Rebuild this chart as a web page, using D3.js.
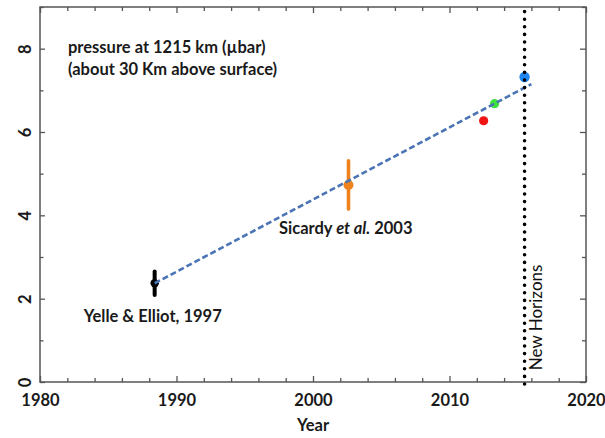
<!DOCTYPE html>
<html>
<head>
<meta charset="utf-8">
<script src="https://cdn.jsdelivr.net/npm/d3@7"></script>
<style>
  html, body { margin: 0; padding: 0; background: #fff; }
  svg { display: block; }
  text { font-family: Lato, "Open Sans", sans-serif; }
</style>
</head>
<body>
<svg id="chart" width="605" height="438"></svg>
<script>
// ---- data ----
const sourceLabels = ["Yelle & Elliot, 1997", "Sicardy et al. 2003", "", "", ""];
const obsYears     = [1988.4, 2002.6, 2012.5, 2013.3, 2015.5];
const obsPressure  = [2.37, 4.73, 6.27, 6.68, 7.32];
const obsError     = [0.28, 0.58, 0, 0, 0];
const obsColors    = ["#000000", "#f0821e", "#f01414", "#3ee23e", "#1f86f0"];
const fitYears     = [1988.4, 2016.0];
const fitPressure  = [2.37, 7.15];
const newHorizonsYear = 2015.5;
const xTickValues  = d3.range(1980, 2021, 2);
const xTickLabels  = [1980, 1990, 2000, 2010, 2020];
const yTickValues  = d3.range(0, 10, 1);
const yTickLabels  = [0, 2, 4, 6, 8];
const titleLines   = ["pressure at 1215 km (\u00b5bar)", "(about 30 Km above surface)"];
const xTitle       = "Year";

// ---- layout ----
const svg = d3.select("#chart");
const pL = 40, pR = 586, pT = 7, pB = 382;
const x = d3.scaleLinear().domain([1980, 2020]).range([pL, pR]);
const y = d3.scaleLinear().domain([0, 9]).range([pB, pT]);
const axisColor = "#555";
const textColor = "#1a1a1a";

// frame
svg.append("rect").attr("x", pL).attr("y", pT)
  .attr("width", pR - pL).attr("height", pB - pT)
  .attr("fill", "none").attr("stroke", axisColor).attr("stroke-width", 1.5);

function styleAxis(g) {
  g.select(".domain").remove();
  g.selectAll(".tick line").attr("stroke", axisColor).attr("stroke-width", 1.3);
}
const isMajorX = v => xTickLabels.includes(v);
const isMajorY = v => yTickLabels.includes(v);

// bottom axis
const gx = svg.append("g").attr("transform", `translate(0,${pB})`)
  .call(d3.axisBottom(x).tickValues(xTickValues).tickSize(-5).tickSizeOuter(0)
    .tickFormat(v => isMajorX(v) ? String(v) : ""));
styleAxis(gx);
gx.selectAll(".tick line").attr("y2", d => isMajorX(d) ? -6 : -4);
gx.selectAll(".tick text").attr("y", 12).attr("dy", "0.71em")
  .attr("font-size", 16.5).attr("font-weight", 700).attr("fill", textColor)
  .attr("font-family", "Lato, sans-serif");

// top axis
const gt = svg.append("g").attr("transform", `translate(0,${pT})`)
  .call(d3.axisTop(x).tickValues(xTickValues).tickSize(-4).tickSizeOuter(0).tickFormat(""));
styleAxis(gt);
gt.selectAll(".tick line").attr("y2", d => isMajorX(d) ? 6 : 4);

// left axis
const gy = svg.append("g").attr("transform", `translate(${pL},0)`)
  .call(d3.axisLeft(y).tickValues(yTickValues).tickSize(-5).tickSizeOuter(0)
    .tickFormat(v => isMajorY(v) ? String(v) : ""));
styleAxis(gy);
gy.selectAll(".tick line").attr("x2", d => isMajorY(d) ? 5 : 3.5);
gy.selectAll(".tick text")
  .attr("x", null).attr("dy", null)
  .attr("transform", "translate(-9,0) rotate(-90)")
  .attr("text-anchor", "middle")
  .attr("font-size", 16.5).attr("font-weight", 700).attr("fill", textColor)
  .attr("font-family", "Lato, sans-serif");

// right axis
const gr = svg.append("g").attr("transform", `translate(${pR},0)`)
  .call(d3.axisRight(y).tickValues(yTickValues).tickSize(-4).tickSizeOuter(0).tickFormat(""));
styleAxis(gr);
gr.selectAll(".tick line").attr("x2", d => isMajorY(d) ? -6 : -4);

// x title
svg.append("text").attr("x", (pL + pR) / 2).attr("y", 431)
  .attr("text-anchor", "middle").attr("font-size", 16.5).attr("font-weight", 700)
  .attr("fill", textColor).text(xTitle);

// observations
const obs = obsYears.map((yr, i) => ({ yr, p: obsPressure[i], e: obsError[i], c: obsColors[i], i }));
const radii = [4.2, 5, 4.6, 4.6, 5.2];
const barW = [4, 3.6, 0, 0, 0];
svg.append("g").selectAll("line").data(obs.filter(d => d.e > 0)).join("line")
  .attr("x1", d => x(d.yr)).attr("x2", d => x(d.yr))
  .attr("y1", d => y(d.p - d.e)).attr("y2", d => y(d.p + d.e))
  .attr("stroke", d => d.c).attr("stroke-width", d => barW[d.i]).attr("stroke-linecap", "round");
svg.append("g").selectAll("circle").data(obs).join("circle")
  .attr("cx", d => x(d.yr)).attr("cy", d => y(d.p)).attr("r", d => radii[d.i])
  .attr("fill", d => d.c);

// fit line
svg.append("path")
  .datum(fitYears.map((yr, i) => [yr, fitPressure[i]]))
  .attr("d", d3.line().x(d => x(d[0])).y(d => y(d[1])))
  .attr("fill", "none").attr("stroke", "#4a74b4").attr("stroke-width", 2.6)
  .attr("stroke-dasharray", "6,3");

// New Horizons dotted line
svg.append("line")
  .attr("x1", x(newHorizonsYear)).attr("x2", x(newHorizonsYear))
  .attr("y1", y(0) + 2).attr("y2", y(9))
  .attr("stroke", "#000").attr("stroke-width", 3.6)
  .attr("stroke-linecap", "round").attr("stroke-dasharray", "0,7.6");

svg.append("text")
  .attr("transform", `translate(${x(newHorizonsYear) + 17},${y(1.55)}) rotate(-90)`)
  .attr("text-anchor", "middle").attr("font-size", 17).attr("fill", "#111")
  .text("New Horizons");

// annotations
svg.append("text").attr("x", x(1983.2)).attr("y", 321.5)
  .attr("font-size", 16.5).attr("font-weight", 700).attr("fill", textColor)
  .text(sourceLabels[0]);

const sic = svg.append("text").attr("x", 279).attr("y", 233.5)
  .attr("font-size", 16.5).attr("font-weight", 700).attr("fill", textColor);
sic.append("tspan").text("Sicardy ");
sic.append("tspan").attr("font-style", "italic").text("et al.");
sic.append("tspan").text(" 2003");

// title lines
svg.append("g").selectAll("text").data(titleLines).join("text")
  .attr("x", 68).attr("y", (d, i) => 53 + i * 22)
  .attr("font-size", 16.5).attr("font-weight", 700).attr("fill", textColor)
  .text(d => d);
</script>
</body>
</html>
